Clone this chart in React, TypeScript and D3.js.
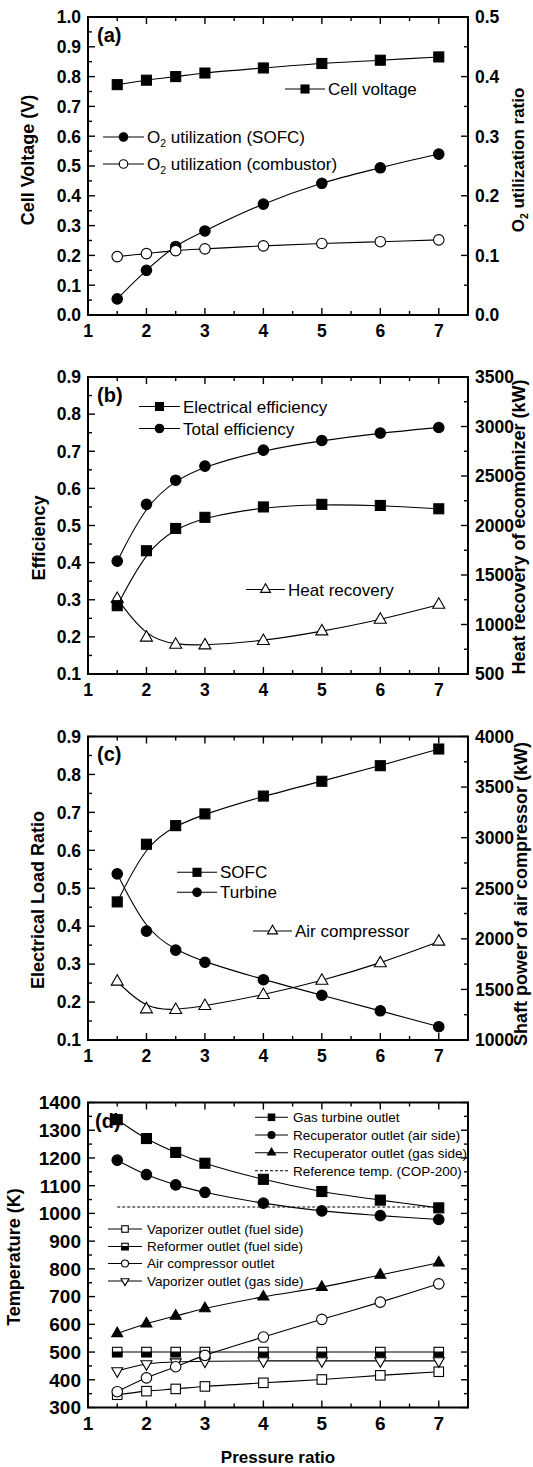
import React from 'react';
import * as d3 from 'd3';

// x values (pressure ratio) shared by every panel
const pressureRatio = [1.5, 2, 2.5, 3, 4, 5, 6, 7];
const xTickLabels = [1, 2, 3, 4, 5, 6, 7];

// (a) cell voltage / O2 utilization
const cellVoltage = [0.773, 0.788, 0.8, 0.812, 0.829, 0.844, 0.855, 0.866];
const o2UtilSofc = [0.027, 0.075, 0.115, 0.141, 0.186, 0.221, 0.247, 0.27];
const o2UtilCombustor = [0.098, 0.103, 0.108, 0.111, 0.116, 0.12, 0.123, 0.126];
const aLeftTicks = [0, 0.1, 0.2, 0.3, 0.4, 0.5, 0.6, 0.7, 0.8, 0.9, 1.0];
const aRightTicks = [0, 0.1, 0.2, 0.3, 0.4, 0.5];

// (b) efficiency / heat recovery
const electricalEff = [0.284, 0.432, 0.492, 0.522, 0.55, 0.557, 0.554, 0.545];
const totalEff = [0.404, 0.557, 0.622, 0.66, 0.703, 0.729, 0.749, 0.764];
const heatRecovery = [1258, 867, 796, 789, 833, 930, 1048, 1200];
const bLeftTicks = [0.1, 0.2, 0.3, 0.4, 0.5, 0.6, 0.7, 0.8, 0.9];
const bRightTicks = [500, 1000, 1500, 2000, 2500, 3000, 3500];

// (c) electrical load ratio / compressor shaft power
const sofcLoad = [0.464, 0.616, 0.665, 0.696, 0.743, 0.782, 0.823, 0.867];
const turbineLoad = [0.538, 0.387, 0.337, 0.305, 0.259, 0.218, 0.177, 0.135];
const airCompressorPower = [1577, 1303, 1297, 1336, 1445, 1586, 1758, 1972];
const cLeftTicks = [0.1, 0.2, 0.3, 0.4, 0.5, 0.6, 0.7, 0.8, 0.9];
const cRightTicks = [1000, 1500, 2000, 2500, 3000, 3500, 4000];

// (d) temperatures
const gasTurbineOutlet = [1338, 1270, 1220, 1181, 1123, 1079, 1048, 1020];
const recupAirSide = [1192, 1140, 1103, 1076, 1037, 1009, 992, 978];
const recupGasSide = [567, 602, 630, 657, 699, 734, 778, 822];
const referenceTemp = 1023;
const vaporizerFuelSide = [346, 359, 367, 376, 389, 401, 416, 429];
const reformerOutlet = [500, 500, 500, 500, 500, 500, 500, 500];
const airCompressorOutlet = [357, 407, 447, 488, 554, 618, 680, 746];
const vaporizerGasSide = [432, 457, 464, 467, 468, 468, 468, 468];
const dTicks = [300, 400, 500, 600, 700, 800, 900, 1000, 1100, 1200, 1300, 1400];

const FONT = "'Liberation Sans', Arial, Helvetica, sans-serif";
const L = 88;
const R = 468;
const x = d3.scaleLinear().domain([1, 7.5]).range([L, R]);

const halves = (t: number[]) => d3.pairs(t).map(([a, b]) => (a + b) / 2);

type Kind = 'sq' | 'osq' | 'hsq' | 'ci' | 'oci' | 'tri' | 'otri' | 'odtri';

function Marker({ kind, cx, cy, s }: { kind: Kind; cx: number; cy: number; s: number }) {
  const sw = 1.1;
  if (kind === 'sq' || kind === 'osq') {
    return <rect x={cx - s / 2} y={cy - s / 2} width={s} height={s}
      fill={kind === 'sq' ? '#000' : '#fff'} stroke="#000" strokeWidth={sw} />;
  }
  if (kind === 'hsq') {
    return (
      <g>
        <rect x={cx - s / 2} y={cy - s / 2} width={s} height={s} fill="#fff" stroke="#000" strokeWidth={sw} />
        <rect x={cx - s / 2} y={cy} width={s} height={s / 2} fill="#000" stroke="#000" strokeWidth={sw} />
      </g>
    );
  }
  if (kind === 'ci' || kind === 'oci') {
    return <circle cx={cx} cy={cy} r={s / 2} fill={kind === 'ci' ? '#000' : '#fff'} stroke="#000" strokeWidth={sw} />;
  }
  const h = s * 0.87;
  const up = kind !== 'odtri';
  const pts = up
    ? [[cx, cy - (h * 2) / 3], [cx - s / 2, cy + h / 3], [cx + s / 2, cy + h / 3]]
    : [[cx, cy + (h * 2) / 3], [cx - s / 2, cy - h / 3], [cx + s / 2, cy - h / 3]];
  return <polygon points={pts.map(p => p.join(',')).join(' ')}
    fill={kind === 'tri' ? '#000' : '#fff'} stroke="#000" strokeWidth={sw} />;
}

function Series({ ys, y, curve, kind, s }: {
  ys: number[]; y: d3.ScaleLinear<number, number>; curve: d3.CurveFactory; kind: Kind; s: number;
}) {
  const line = d3.line<number>().x((_, i) => x(pressureRatio[i])).y(d => y(d)).curve(curve);
  return (
    <g>
      <path d={line(ys) || ''} fill="none" stroke="#000" strokeWidth={1.1} />
      {ys.map((v, i) => <Marker key={i} kind={kind} cx={x(pressureRatio[i])} cy={y(v)} s={s} />)}
    </g>
  );
}

function LegendItem({ x1, x2, y, kind, s, tx, fs, children, dashed }: any) {
  return (
    <g>
      <line x1={x1} x2={x2} y1={y} y2={y} stroke="#000" strokeWidth={1.1} strokeDasharray={dashed ? '3,2' : undefined} />
      {kind && <Marker kind={kind} cx={(x1 + x2) / 2} cy={y} s={s} />}
      <text x={tx} y={y} dy="0.36em" fontSize={fs}>{children}</text>
    </g>
  );
}

function Frame({ top, bottom, yl, lt, lf, yr, rt, rf, fs }: {
  top: number; bottom: number; yl: d3.ScaleLinear<number, number>; lt: number[]; lf: (v: number) => string;
  yr?: d3.ScaleLinear<number, number>; rt?: number[]; rf?: (v: number) => string; fs: number;
}) {
  const maj = 7, min = 4;
  const lMinor = halves(lt);
  const rMaj = yr && rt ? rt.map(v => yr(v)) : lt.map(v => yl(v));
  const rMin = yr && rt ? halves(rt).map(v => yr(v)) : lMinor.map(v => yl(v));
  const xMinor = halves(xTickLabels);
  const tk = { stroke: '#000', strokeWidth: 1.4 };
  return (
    <g>
      {lt.map(v => <line key={'l' + v} x1={L} x2={L + maj} y1={yl(v)} y2={yl(v)} {...tk} />)}
      {lMinor.map(v => <line key={'lm' + v} x1={L} x2={L + min} y1={yl(v)} y2={yl(v)} {...tk} />)}
      {rMaj.map((p, i) => <line key={'r' + i} x1={R} x2={R - maj} y1={p} y2={p} {...tk} />)}
      {rMin.map((p, i) => <line key={'rm' + i} x1={R} x2={R - min} y1={p} y2={p} {...tk} />)}
      {xTickLabels.map(v => (
        <g key={'x' + v}>
          <line x1={x(v)} x2={x(v)} y1={bottom} y2={bottom - maj} {...tk} />
          <line x1={x(v)} x2={x(v)} y1={top} y2={top + maj} {...tk} />
        </g>
      ))}
      {xMinor.map(v => (
        <g key={'xm' + v}>
          <line x1={x(v)} x2={x(v)} y1={bottom} y2={bottom - min} {...tk} />
          <line x1={x(v)} x2={x(v)} y1={top} y2={top + min} {...tk} />
        </g>
      ))}
      <rect x={L} y={top} width={R - L} height={bottom - top} fill="none" stroke="#000" strokeWidth={2} />
      <g fontWeight="bold" fontSize={fs}>
        {lt.map(v => <text key={'ll' + v} x={L - 7} y={yl(v)} dy="0.36em" textAnchor="end">{lf(v)}</text>)}
        {yr && rt && rf && rt.map(v => <text key={'rl' + v} x={R + 7} y={yr(v)} dy="0.36em">{rf(v)}</text>)}
        {xTickLabels.map(v => <text key={'xl' + v} x={x(v)} y={bottom + 22} textAnchor="middle">{v}</text>)}
      </g>
    </g>
  );
}

function VTitle({ x: tx, y, children, fs = 18 }: any) {
  return (
    <text transform={`translate(${tx},${y}) rotate(-90)`} textAnchor="middle" fontWeight="bold" fontSize={fs}>
      {children}
    </text>
  );
}

const f1 = d3.format('.1f');
const f0 = d3.format('d');
const sub = (t: string) => (
  <>
    <tspan dy="4" fontSize="0.62em">2</tspan>
    <tspan dy="-4">{t}</tspan>
  </>
);

export default function App() {
  // panel scales
  const yA = d3.scaleLinear().domain([0, 1]).range([315, 17]);
  const yA2 = d3.scaleLinear().domain([0, 0.5]).range([315, 17]);
  const yB = d3.scaleLinear().domain([0.1, 0.9]).range([674, 377]);
  const yB2 = d3.scaleLinear().domain([500, 3500]).range([674, 377]);
  const yC = d3.scaleLinear().domain([0.1, 0.9]).range([1040, 736.5]);
  const yC2 = d3.scaleLinear().domain([1000, 4000]).range([1040, 736.5]);
  const yD = d3.scaleLinear().domain([300, 1400]).range([1407.5, 1102.5]);

  const cr = d3.curveCatmullRom;
  const bs = d3.curveBasis;
  const lfs = 17;
  const dfs = 13.5;

  return (
    <svg width={533} height={1467} style={{ position: 'absolute', left: 0, top: 0 }} fontFamily={FONT}>
      <rect width={533} height={1467} fill="#fff" />

      {/* (a) */}
      <Frame top={17} bottom={315} yl={yA} lt={aLeftTicks} lf={f1} yr={yA2} rt={aRightTicks} rf={f1} fs={17.5} />
      <Series ys={cellVoltage} y={yA} curve={cr} kind="sq" s={10} />
      <Series ys={o2UtilSofc} y={yA2} curve={cr} kind="ci" s={10.5} />
      <Series ys={o2UtilCombustor} y={yA2} curve={cr} kind="oci" s={10.5} />
      <text x={97} y={42} fontWeight="bold" fontSize={20}>(a)</text>
      <LegendItem x1={285} x2={325} y={89} kind="sq" s={8} tx={328} fs={lfs}>Cell voltage</LegendItem>
      <LegendItem x1={103} x2={144} y={137} kind="ci" s={8.5} tx={147} fs={lfs}>O{sub(' utilization (SOFC)')}</LegendItem>
      <LegendItem x1={103} x2={144} y={164} kind="oci" s={8.5} tx={147} fs={lfs}>O{sub(' utilization (combustor)')}</LegendItem>
      <VTitle x={34} y={160}>Cell Voltage (V)</VTitle>
      <VTitle x={524} y={160} fs={17}>O{sub(' utilization ratio')}</VTitle>

      {/* (b) */}
      <Frame top={377} bottom={674} yl={yB} lt={bLeftTicks} lf={f1} yr={yB2} rt={bRightTicks} rf={f0} fs={17.5} />
      <Series ys={heatRecovery} y={yB2} curve={bs} kind="otri" s={12} />
      <Series ys={electricalEff} y={yB} curve={bs} kind="sq" s={10} />
      <Series ys={totalEff} y={yB} curve={bs} kind="ci" s={10.5} />
      <text x={97} y={402} fontWeight="bold" fontSize={20}>(b)</text>
      <LegendItem x1={139} x2={180} y={406.5} kind="sq" s={8} tx={183} fs={lfs}>Electrical efficiency</LegendItem>
      <LegendItem x1={139} x2={180} y={428.5} kind="ci" s={8.5} tx={183} fs={lfs}>Total efficiency</LegendItem>
      <LegendItem x1={246} x2={285} y={589.5} kind="otri" s={10} tx={288} fs={lfs}>Heat recovery</LegendItem>
      <VTitle x={45} y={538}>Efficiency</VTitle>
      <VTitle x={525} y={527}>Heat recovery of ecomomizer (kW)</VTitle>

      {/* (c) */}
      <Frame top={736.5} bottom={1040} yl={yC} lt={cLeftTicks} lf={f1} yr={yC2} rt={cRightTicks} rf={f0} fs={17.5} />
      <Series ys={airCompressorPower} y={yC2} curve={bs} kind="otri" s={12} />
      <Series ys={sofcLoad} y={yC} curve={bs} kind="sq" s={10} />
      <Series ys={turbineLoad} y={yC} curve={bs} kind="ci" s={10.5} />
      <text x={97} y={761} fontWeight="bold" fontSize={20}>(c)</text>
      <LegendItem x1={177} x2={217} y={872.3} kind="sq" s={8} tx={220} fs={lfs}>SOFC</LegendItem>
      <LegendItem x1={177} x2={217} y={892.3} kind="ci" s={8.5} tx={220} fs={lfs}>Turbine</LegendItem>
      <LegendItem x1={253} x2={292} y={931} kind="otri" s={10} tx={295} fs={lfs}>Air compressor</LegendItem>
      <VTitle x={44} y={900}>Electrical Load Ratio</VTitle>
      <VTitle x={527} y={894}>Shaft power of air compressor (kW)</VTitle>

      {/* (d) */}
      <Frame top={1102.5} bottom={1407.5} yl={yD} lt={dTicks} lf={f0} fs={19} />
      <line x1={x(pressureRatio[0])} x2={x(pressureRatio[pressureRatio.length - 1])}
        y1={yD(referenceTemp)} y2={yD(referenceTemp)} stroke="#000" strokeWidth={1.1} strokeDasharray="3,2" />
      <Series ys={vaporizerFuelSide} y={yD} curve={cr} kind="osq" s={9.5} />
      <Series ys={reformerOutlet} y={yD} curve={cr} kind="hsq" s={9.5} />
      <Series ys={vaporizerGasSide} y={yD} curve={cr} kind="odtri" s={11} />
      <Series ys={airCompressorOutlet} y={yD} curve={cr} kind="oci" s={10.5} />
      <Series ys={recupGasSide} y={yD} curve={cr} kind="tri" s={11} />
      <Series ys={recupAirSide} y={yD} curve={cr} kind="ci" s={10.5} />
      <Series ys={gasTurbineOutlet} y={yD} curve={cr} kind="sq" s={10} />
      <text x={95} y={1128} fontWeight="bold" fontSize={20}>(d)</text>
      <LegendItem x1={255} x2={288} y={1117.3} kind="sq" s={6.5} tx={293} fs={dfs}>Gas turbine outlet</LegendItem>
      <LegendItem x1={255} x2={288} y={1135} kind="ci" s={7} tx={293} fs={dfs}>Recuperator outlet (air side)</LegendItem>
      <LegendItem x1={255} x2={288} y={1152.7} kind="tri" s={8} tx={293} fs={dfs}>Recuperator outlet (gas side)</LegendItem>
      <LegendItem x1={255} x2={288} y={1170.7} dashed tx={293} fs={dfs}>Reference temp. (COP-200)</LegendItem>
      <LegendItem x1={108} x2={142} y={1229} kind="osq" s={6.5} tx={147} fs={dfs}>Vaporizer outlet (fuel side)</LegendItem>
      <LegendItem x1={108} x2={142} y={1246.5} kind="hsq" s={6.5} tx={147} fs={dfs}>Reformer outlet (fuel side)</LegendItem>
      <LegendItem x1={108} x2={142} y={1263.5} kind="oci" s={7} tx={147} fs={dfs}>Air compressor outlet</LegendItem>
      <LegendItem x1={108} x2={142} y={1281} kind="odtri" s={8} tx={147} fs={dfs}>Vaporizer outlet (gas side)</LegendItem>
      <VTitle x={20} y={1257}>Temperature (K)</VTitle>
      <text x={(L + R) / 2} y={1463} textAnchor="middle" fontWeight="bold" fontSize={17}>Pressure ratio</text>
    </svg>
  );
}
